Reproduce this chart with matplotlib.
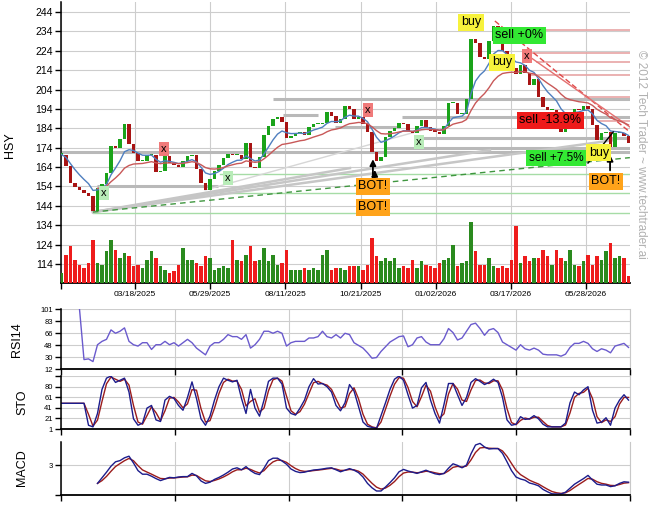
import matplotlib
matplotlib.use('Agg')
import matplotlib.pyplot as plt
import numpy as np
import pandas as pd

plt.rcParams['font.family'] = ['Liberation Sans', 'DejaVu Sans']

W, H = 657, 514
nan = float('nan')

# price sampled every 3 trading days
closes = [170.5, 164.5, 156, 153.5, 152, 150.5, 149, 141.5, 153, 155.5,
          161, 175, 174, 178.5, 186, 176, 171.5, 167, 167, 170,
          170.5, 161.5, 162, 169.5, 166, 165, 164, 167, 169.5, 170.5,
          163, 156, 152, 158, 162, 165, 168.5, 171, 170, 170.5,
          168, 176.5, 164, 163.5, 169, 180.5, 185, 189, 190, 187.5,
          179, 180, 181.5, 182, 180.5, 184.8, 186, 186, 187, 192.5,
          190.5, 187, 189, 195.5, 194, 189, 190, 186, 182, 172,
          167, 169, 179.7, 182.5, 184, 186.6, 186, 182.5, 181.5, 185,
          188.5, 184.5, 182.8, 182.3, 181.2, 185, 197, 197, 191.5, 191.5,
          199, 230, 228, 221, 220, 229, 237, 229.5, 224, 216,
          215, 212, 216.5, 212.5, 206.5, 209.5, 200, 195, 193.5, 193.5,
          191, 182, 184, 191.5, 194, 193.5, 195.5, 194, 185.7, 178,
          181.5, 182, 174.5, 181.5, 181.5, 180, 176.5]

# volume, millions
volumes = [1.0, 2.8, 3.7, 2.3, 1.8, 1.5, 2.0, 4.3, 2.0, 1.8,
           3.2, 4.3, 3.3, 2.5, 3.0, 2.7, 1.7, 1.8, 1.5, 2.3,
           3.2, 2.5, 1.7, 1.3, 1.0, 1.2, 1.8, 3.5, 2.3, 2.3,
           2.0, 1.7, 2.7, 2.5, 1.3, 1.5, 1.7, 1.5, 4.3, 2.3,
           2.2, 2.8, 3.7, 2.2, 2.3, 3.5, 2.2, 2.8, 1.8, 2.0,
           3.3, 1.3, 1.3, 1.3, 1.5, 1.3, 1.5, 1.3, 2.8, 3.3,
           1.3, 1.5, 1.5, 1.3, 1.7, 1.7, 1.7, 1.3, 1.8, 4.5,
           2.7, 2.2, 2.5, 2.2, 2.5, 1.5, 1.7, 1.5, 2.3, 1.5,
           2.2, 1.8, 1.7, 1.5, 2.0, 2.3, 2.5, 3.8, 1.7, 2.0,
           2.2, 6.1, 3.2, 1.8, 1.8, 2.5, 1.7, 1.5, 1.7, 1.5,
           2.3, 5.7, 2.0, 2.7, 2.2, 2.5, 2.5, 3.3, 2.7, 1.8,
           3.3, 2.5, 2.2, 3.3, 1.8, 1.7, 2.2, 2.8, 1.8, 2.7,
           2.3, 3.2, 4.0, 2.5, 2.7, 2.5, 0.7]

rsi14 = [nan, nan, nan, nan, 101, 26, 27, 23, 48, 53,
         56, 70, 65, 68, 73, 53, 48, 46, 51, 51,
         41, 48, 48, 53, 48, 51, 46, 51, 56, 51,
         43, 38, 33, 46, 51, 51, 56, 63, 60, 60,
         56, 63, 43, 48, 56, 68, 68, 65, 68, 65,
         46, 51, 53, 53, 53, 58, 58, 60, 68, 60,
         58, 63, 58, 65, 63, 51, 47, 43, 36, 28,
         29, 38, 45, 52, 56, 60, 61, 45, 48, 58,
         60, 52, 48, 48, 48, 57, 72, 66, 55, 58,
         68, 78, 80, 72, 62, 70, 72, 66, 52, 48,
         44, 40, 48, 42, 40, 43, 40, 34, 33, 33,
         33, 31, 34, 44, 50, 50, 53, 50, 42, 38,
         42, 40, 36, 46, 48, 50, 44]

sto_k = [49, 49, 49, 49, 49, 49, 8, 5, 30, 75,
         96, 100, 88, 92, 96, 70, 20, 8, 12, 40,
         45, 18, 15, 55, 62, 58, 45, 36, 60, 89,
         58, 20, 8, 25, 55, 80, 96, 92, 89, 92,
         58, 30, 75, 40, 25, 55, 90, 96, 96, 85,
         40, 30, 27, 40, 55, 80, 95, 85, 86, 80,
         70, 45, 35, 50, 84, 72, 43, 14, 6, 4,
         2, 26, 50, 75, 94, 100, 92, 65, 40, 45,
         78, 88, 55, 30, 12, 47, 86, 86, 65, 45,
         60, 88, 95, 90, 84, 88, 94, 88, 60, 18,
         8, 10, 24, 19, 20, 26, 20, 10, 5, 5,
         5, 5, 12, 50, 70, 65, 74, 80, 36, 12,
         14, 22, 8, 40, 55, 65, 55]

macd = [nan] * 8 + [
    -1.6, -0.2, 1.2, 2.7, 3.8, 4.1, 4.8, 5.2, 3.5, 1.6,
    0.7, 0.7, 0.2, -0.4, -0.9, -0.5, -0.1, -0.2, 0, 0.1,
    0.1, 0.9, 0.3, -1, -1.6, -1.3, -0.6, -0.1, 0.5, 1.2,
    2, 2.3, 1.8, 2.6, 1.6, 0.9, 0.6, 2.2, 4.1, 4.7,
    4.7, 4.0, 3.2, 2.0, 1.4, 1.1, 1.2, 1.5, 1.75, 1.85,
    2.0, 2.2, 2.3, 1.8, 1.3, 1.7, 2.1, 1.7, 1.1, 0,
    -1.6, -2.7, -3.5, -3.5, -2.5, -1.4, -0.2, 1.3, 1.9, 1.5,
    1.2, 0.9, 1.3, 1.7, 1.2, 0.8, 0.6, 0.9, 2.2, 3.3,
    2.9, 2.3, 3.0, 5.8, 8.0, 8.4, 7.5, 7.0, 7.1, 7.1,
    5.9, 3.8, 1.6, 0, -0.5, -0.8, -1.5, -1.8, -2.2, -3.1,
    -3.7, -4.2, -4.25, -4.25, -3.8, -2.8, -1.8, -1.1, -0.4, 0.4,
    -0.75, -1.8, -2, -2, -2.4, -2.2, -1.6, -1.2, -1.3]

date_pos = [16.33, 33.0, 49.67, 66.56, 83.22, 99.89, 116.56]
date_labels = ['03/18/2025', '05/29/2025', '08/11/2025', '10/21/2025',
               '01/02/2026', '03/17/2026', '05/28/2026']

# support / resistance levels: (price, from, to)
gray_levels = [(199.2, 47.0, 126.3), (190.8, 49.2, 57.0), (189.7, 75.7, 126.3),
               (184.5, 60.8, 75.2), (179.0, 78.6, 126.3), (173.7, 71.9, 126.3),
               (172.0, -0.1, 126.3), (154.4, 7.9, 34.8)]
green_levels = [(160.6, 35.2, 126.3), (150.5, 35.2, 126.3), (140.5, 7.0, 126.3)]
red_levels = [(235.0, 96.3, 126.3), (222.7, 103.4, 126.3), (218.0, 105.7, 126.3),
              (211.5, 104.1, 126.3), (200.3, 116.3, 126.3), (188.0, 119.2, 126.3)]
# trend lines: (x0, p0, x1, p1)
gray_trends = [(7.0, 140.8, 123.0, 178.0), (7.0, 140.8, 95.2, 172.8), (7.0, 140.8, 64.1, 163.5)]
thin_trend = (31.9, 152.2, 81.9, 184.2)
green_trend = (7.0, 140.8, 126.3, 168.9)
red_dash_trend = (96.3, 239.4, 126.3, 182.1)
red_trend = (104.1, 220.8, 126.3, 184.7)

# signal labels: (text, x, price, colour, size)
labels = [('x', 9.44, 150.6, '#b8ecb8', 8), ('x', 22.8, 173.3, '#f07a7a', 8),
          ('x', 37.0, 158.4, '#b8ecb8', 8), ('x', 68.1, 193.4, '#f07a7a', 8),
          ('x', 79.4, 177.0, '#b8ecb8', 8), ('x', 103.4, 221.3, '#f07a7a', 8),
          ('buy', 91.0, 238.8, '#f7f23c', 9), ('sell +0%', 101.7, 232.1, '#33e833', 9),
          ('buy', 97.9, 218.2, '#f7f23c', 9), ('sell -13.9%', 108.6, 188.3, '#ee1a1a', 9),
          ('sell +7.5%', 109.9, 168.7, '#33e833', 8.5), ('buy', 119.4, 171.3, '#f7f23c', 9),
          ('BOT!', 69.2, 154.2, '#ffa31a', 9), ('BOT!', 69.2, 143.4, '#ffa31a', 9),
          ('BOT!', 121.0, 156.8, '#ffa31a', 9)]
arrows = [(69.2, 154.8, 169.5), (69.6, 150.0, 164.0), (121.9, 160.9, 171.8)]
trade_line = (117.0, 166.1, 122.6, 182.1)

x = np.arange(len(closes))
c = np.array(closes)
o = np.r_[c[0], c[:-1]]
up = c >= o
GREEN, DRED = '#1aa31a', '#a81414'
XL = (-0.11, 126.33)

fig = plt.figure(figsize=(W / 100, H / 100), dpi=100)


def panel(l, t, r, b):
    return fig.add_axes([l / W, 1 - b / H, (r - l) / W, (b - t) / H])


ax = panel(61, 2, 630, 283)
ax_rsi = panel(61, 309, 630, 369)
ax_sto = panel(61, 376, 630, 429)
ax_macd = panel(61, 442, 630, 495)

for a in (ax, ax_rsi, ax_sto, ax_macd):
    a.set_xlim(*XL)
    a.spines['top'].set_visible(False)
    a.spines['right'].set_visible(False)
    a.spines['left'].set_linewidth(1.1)
    a.spines['bottom'].set_linewidth(1.3)
    a.set_axisbelow(True)
    a.grid(color='#cdcdcd', lw=0.8)
    a.tick_params(direction='out', length=4, width=1, pad=2)

# main price panel
ax.set_ylim(104.2, 249.2)
ax.set_yticks(range(114, 245, 10))
ax.tick_params(axis='y', labelsize=7.5)
ax.set_xticks([XL[0]] + date_pos)
ax.set_xticklabels([''] + date_labels, fontsize=6)

for lvl, a0, a1 in gray_levels:
    ax.plot([a0, a1], [lvl, lvl], color='#b9b9b9', lw=2.2, solid_capstyle='butt', zorder=2)
for lvl, a0, a1 in green_levels:
    ax.plot([a0, a1], [lvl, lvl], color='#a6dca6', lw=1.0, zorder=2)
for lvl, a0, a1 in red_levels:
    ax.plot([a0, a1], [lvl, lvl], color='#e8a4a4', lw=1.2, zorder=2)
for x0, p0, x1, p1 in gray_trends:
    ax.plot([x0, x1], [p0, p1], color='#c6c6c6', lw=1.8, zorder=2)
ax.plot(thin_trend[::2], thin_trend[1::2], color='#d6d6d6', lw=1, zorder=2)
ax.plot(green_trend[::2], green_trend[1::2], color='#3f963f', lw=1, ls=(0, (4, 3)), zorder=2)
ax.plot(red_dash_trend[::2], red_dash_trend[1::2], color='#e04848', lw=1, ls=(0, (4, 2)), zorder=2)
ax.plot(red_trend[::2], red_trend[1::2], color='#e47070', lw=1, zorder=2)

body = np.maximum(np.abs(c - o), 0.6)
ax.bar(x, body, bottom=np.minimum(o, c), width=0.85,
       color=np.where(up, GREEN, DRED), zorder=3)

s = pd.Series(closes)
ax.plot(x, s.ewm(span=7, adjust=False).mean(), color='#4f7fbf', lw=1, zorder=4)
slow = s.iloc[8:].ewm(span=17, adjust=False).mean()
ax.plot(slow.index, slow.values, color='#c85858', lw=1, zorder=4)

ax.plot(trade_line[::2], trade_line[1::2], color='black', lw=1, zorder=5)
for xa, p0, p1 in arrows:
    ax.annotate('', xy=(xa, p1), xytext=(xa, p0), zorder=6,
                arrowprops=dict(arrowstyle='-|>', color='black', lw=1.3, mutation_scale=9))
for txt, xa, p, col, fs in labels:
    ax.text(xa, p, txt, ha='center', va='center', fontsize=fs, zorder=7,
            bbox=dict(boxstyle='square,pad=0.2', fc=col, ec='none'))

# volume on a twin axis
axv = ax.twinx()
axv.set_ylim(0, 28.1)
axv.bar(x, volumes, width=0.75, color=np.where(up, '#2a8a1e', '#ee1c1c'))
axv.axis('off')

# RSI
ax_rsi.set_ylim(12, 101)
ax_rsi.set_yticks(np.linspace(12, 101, 6))
ax_rsi.set_yticklabels(['12', '30', '48', '66', '83', '101'], fontsize=5.5)
ax_rsi.plot(x, rsi14, color='#6a5acd', lw=1)

# Stochastic
sk = pd.Series(sto_k)
ax_sto.set_ylim(1, 100)
ax_sto.set_yticks(np.linspace(1, 100, 6))
ax_sto.set_yticklabels(['1', '21', '41', '61', '80', ''], fontsize=5.5)
ax_sto.plot(x, sk.rolling(2, min_periods=1).mean(), color='#9b1c1c', lw=1)
ax_sto.plot(x, sk, color='#1c1c8c', lw=1)

# MACD
mc = pd.Series(macd)
ax_macd.set_ylim(-4.5, 8.75)
ax_macd.set_yticks([-4.5, 3])
ax_macd.set_yticklabels(['', '3'], fontsize=5.5)
ax_macd.plot(x, mc.ewm(span=3, adjust=False).mean(), color='#9b1c1c', lw=1)
ax_macd.plot(x, mc, color='#1c1c8c', lw=1)

for a in (ax_rsi, ax_sto, ax_macd):
    a.set_xticks(np.linspace(XL[0], XL[1], 6))
    a.set_xticklabels([])
    a.spines['right'].set_visible(True)
    a.spines['right'].set_color('#c8c8c8')

for txt, px, py in [('HSY', 10, 145), ('RSI14', 17, 340), ('STO', 22, 402), ('MACD', 22, 468)]:
    fig.text(px / W, 1 - py / H, txt, rotation=90, ha='center', va='center', fontsize=9)

fig.text(641 / W, 1 - 154 / H, '\u00a9 2012 Tech Trader ~ www.techtrader.ai', rotation=270,
         ha='center', va='center', fontsize=8.5, color='#b0b0b0')

fig.savefig('out.png', dpi=100)
